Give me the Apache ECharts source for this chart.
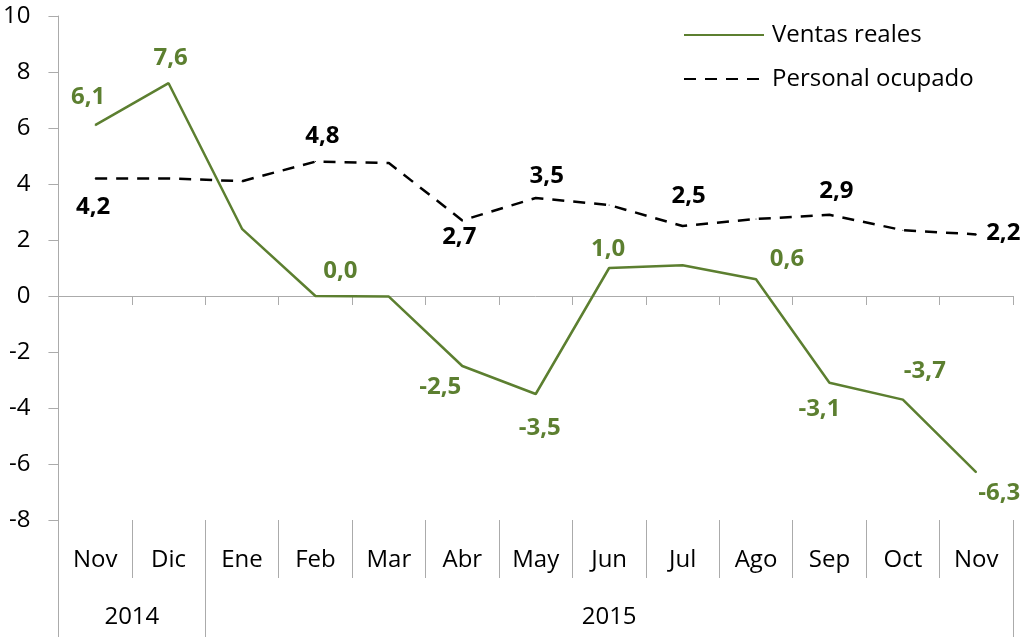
<!DOCTYPE html>
<html><head><meta charset="utf-8">
<script src="https://cdn.jsdelivr.net/npm/echarts@6/dist/echarts.min.js"></script>
<style>html,body{margin:0;padding:0;background:#fff}#c{width:1024px;height:637px}</style>
</head><body><div id="c"></div>
<script>
// ---- data ----
const months = ['Nov','Dic','Ene','Feb','Mar','Abr','May','Jun','Jul','Ago','Sep','Oct','Nov'];
const years = ['2014','2015'];
const yearSpans = [2, 11];
const ventasReales = [6.1, 7.6, 2.4, 0.0, -0.02, -2.5, -3.5, 1.0, 1.1, 0.6, -3.1, -3.7, -6.3];
const personalOcupado = [4.2, 4.2, 4.1, 4.8, 4.75, 2.7, 3.5, 3.25, 2.5, 2.75, 2.9, 2.35, 2.2];
const yMin = -8, yMax = 10, yStep = 2;
const seriesNames = ['Ventas reales', 'Personal ocupado'];

// ---- style ----
const FONT = 'Open Sans';
const GREEN = '#5C7F30';
const AXIS = '#ABABAB';
// label offsets (label centre relative to point), per labeled index
const ventasLabelOffsets = {0:[-7,-28],1:[2,-25],3:[25,-25],5:[-22,21],6:[4,34],7:[-1,-19],9:[31,-20],10:[-10,26],11:[22,-28],12:[23,21]};
const personalLabelOffsets = {0:[-2,29],3:[7,-25],5:[-3,17],6:[11,-22],8:[6,-30],10:[7,-24],12:[27,-1]};

const fmt = v => Number(v).toFixed(1).replace('.', ',');
function buildData(values, offsets) {
  return values.map((v, i) => offsets[i]
    ? {value: v, label: {show: true, position: 'inside', offset: offsets[i]}}
    : {value: v});
}

const option = {
  animation: false,
  backgroundColor: '#fff',
  textStyle: {fontFamily: FONT},
  grid: {left: 58, right: 11, top: 16, bottom: 117, containLabel: false},
  legend: {
    orient: 'vertical', left: 683, top: 20, padding: 0,
    itemWidth: 80, itemHeight: 14, itemGap: 14,
    data: seriesNames,
    itemStyle: {opacity: 0},
    textStyle: {fontFamily: FONT, fontSize: 24, color: '#000', lineHeight: 30, padding: [0,0,0,3]}
  },
  xAxis: [
    {
      type: 'category', data: months, gridIndex: 0, position: 'bottom',
      axisLine: {onZero: true, lineStyle: {color: AXIS, width: 1}},
      axisTick: {show: true, length: 9, lineStyle: {color: AXIS}},
      axisLabel: {show: false}, splitLine: {show: false}
    },
    {
      type: 'category', data: months, gridIndex: 0, position: 'bottom',
      axisLine: {show: false, onZero: false},
      axisTick: {show: true, length: 58, lineStyle: {color: AXIS}},
      axisLabel: {show: true, margin: 28, fontFamily: FONT, fontSize: 24, color: '#000', lineHeight: 24},
      splitLine: {show: false}
    }
  ],
  yAxis: {
    type: 'value', min: yMin, max: yMax, interval: yStep,
    axisLine: {show: true, onZero: false, lineStyle: {color: AXIS, width: 1}},
    axisTick: {show: true, length: 10, lineStyle: {color: AXIS}},
    axisLabel: {margin: 28, fontFamily: FONT, fontSize: 24, color: '#000'},
    splitLine: {show: false}
  },
  series: [
    {
      name: seriesNames[1], type: 'line', xAxisIndex: 0, z: 2,
      data: buildData(personalOcupado, personalLabelOffsets),
      symbol: 'circle', symbolSize: 1,
      itemStyle: {color: '#000'},
      lineStyle: {color: '#000', width: 2.5, type: [12, 9]},
      label: {show: false, fontFamily: FONT, fontSize: 24, fontWeight: 'bold', color: '#000',
              formatter: p => fmt(p.value)},
      emphasis: {disabled: true}
    },
    {
      name: seriesNames[0], type: 'line', xAxisIndex: 0, z: 3,
      data: buildData(ventasReales, ventasLabelOffsets),
      symbol: 'circle', symbolSize: 1,
      itemStyle: {color: GREEN},
      lineStyle: {color: GREEN, width: 2.5},
      label: {show: false, fontFamily: FONT, fontSize: 24, fontWeight: 'bold', color: GREEN,
              formatter: p => fmt(p.value)},
      emphasis: {disabled: true}
    }
  ]
};

const chart = echarts.init(document.getElementById('c'), null, {renderer: 'canvas'});
chart.setOption(option);

// year group row, drawn from the axis scale
(function () {
  const c0 = chart.convertToPixel({xAxisIndex: 1}, 0);
  const c1 = chart.convertToPixel({xAxisIndex: 1}, 1);
  const band = c1 - c0;
  const left = c0 - band / 2;
  const yBottom = Math.round(chart.convertToPixel({yAxisIndex: 0}, yMin));
  const H = 637;
  const els = [];
  const vline = x => ({type: 'line', silent: true,
    shape: {x1: Math.round(x) + 0.5, y1: yBottom, x2: Math.round(x) + 0.5, y2: H},
    style: {stroke: AXIS, lineWidth: 1}});
  els.push(vline(left));
  let start = 0;
  yearSpans.forEach((span, i) => {
    const xa = left + start * band, xb = left + (start + span) * band;
    els.push(vline(xb));
    els.push({type: 'text', silent: true, x: (xa + xb) / 2, y: 617,
      style: {text: years[i], fontFamily: FONT, fontSize: 24, fill: '#000', align: 'center', verticalAlign: 'middle'}});
    start += span;
  });
  chart.setOption({graphic: els});
})();
</script>
</body></html>
